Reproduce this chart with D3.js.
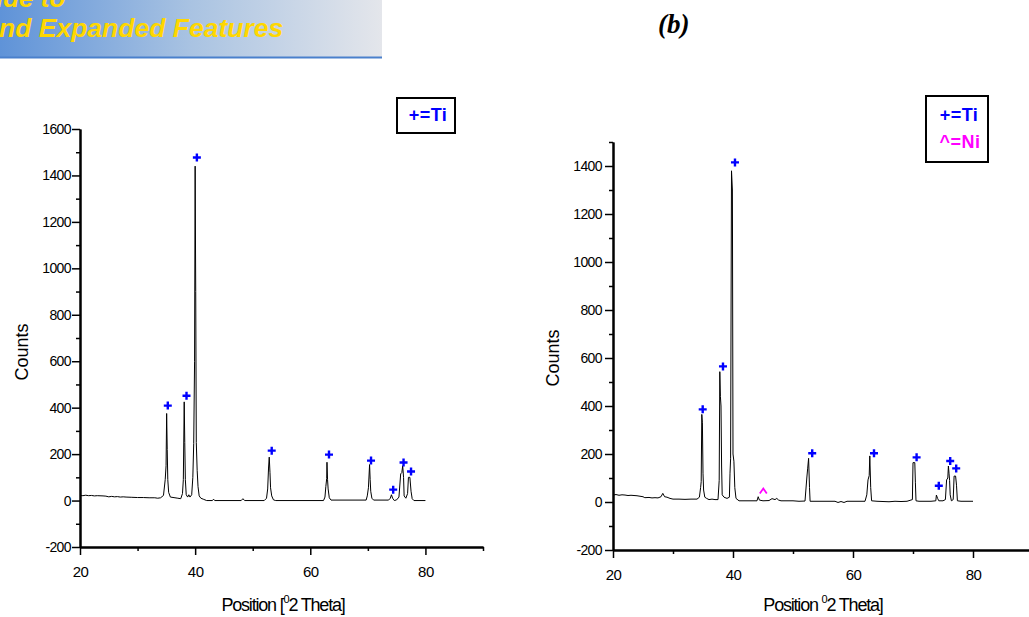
<!DOCTYPE html>
<html><head><meta charset="utf-8">
<script src="https://cdn.jsdelivr.net/npm/d3@7"></script>
<style>
html,body{margin:0;padding:0;background:#fff;}
svg{display:block;font-family:"Liberation Sans",Arial,sans-serif;}
</style></head>
<body>
<svg id="c" width="1029" height="617"></svg>
<script>
// ---------- DATA ----------
// Pattern (a): 2-theta positions and counts
const thetaA = [20,20.5,21,21.5,22,22.5,23,24,24.5,25,25.5,26,26.5,27,27.5,28,29,30,31,32,33,33.5,34,34.5,34.8,34.95,35.05,35.15,35.25,35.4,35.7,36.5,37,37.5,37.8,37.95,38.1,38.2,38.3,38.45,38.7,38.9,39.1,39.4,39.6,39.75,39.9,40.0,40.1,40.2,40.35,40.5,40.7,41,41.5,42,43,43.2,43.4,48,48.3,48.6,52,52.4,52.6,52.75,52.87,53.0,53.1,53.3,53.6,54,62.3,62.55,62.7,62.85,62.9,63.0,63.1,63.3,63.6,69.7,69.9,70.1,70.3,70.4,70.5,70.7,71,73.6,73.9,74.1,74.3,74.6,75,75.4,75.7,75.9,76.05,76.2,76.3,76.6,76.9,77.05,77.3,77.5,77.7,78,80];
const countsA = [22,21,23,21,22,20,21,20,19,16,18,16,17,15,16,15,14,13,13,12,12,10,12,22,90,150,375,220,90,35,15,12,10,8,30,90,425,250,90,25,15,25,15,25,100,245,600,1440,900,250,130,60,20,10,5,0,0,6,0,0,8,0,0,10,50,140,187,120,55,20,3,0,0,15,60,95,165,90,50,12,2,2,20,55,155,90,40,10,2,2,10,25,10,0,3,15,115,120,150,100,20,10,30,100,100,40,8,0,0];
// Pattern (b)
const thetaB = [20,20.5,21,21.5,22,22.5,23,24,25,25.3,26,26.5,27,27.5,28,28.3,28.6,29,29.5,30,31,32,33,34,34.4,34.6,34.7,34.8,34.9,35.0,35.1,35.3,35.6,36,36.5,37,37.5,37.7,37.8,37.9,38.0,38.1,38.2,38.5,39,39.4,39.5,39.6,39.75,39.9,40.0,40.15,40.3,40.5,41,42,43,44,44.2,44.4,45,46,46.5,47,47.3,47.6,48,50,51,52,52.3,52.45,52.6,52.75,52.85,53.5,55,57,57.5,58,58.5,59,62,62.3,62.5,62.7,62.8,62.95,63.1,64,66,67,68,69,69.9,70.0,70.3,70.4,70.5,71,73,73.8,73.9,74.1,74.3,75,75.4,75.6,75.8,75.9,76.0,76.1,76.2,76.4,76.7,76.85,77.1,77.25,77.4,78,79,80];
const countsB = [29,31,28,30,29,27,28,26,22,18,19,17,18,17,22,36,22,20,15,12,12,11,12,12,20,60,85,365,330,120,50,20,15,10,12,10,10,90,543,440,400,150,30,20,15,20,120,180,1380,1300,200,170,60,15,5,5,5,5,22,8,5,6,14,10,15,8,5,5,3,4,100,141,182,60,3,3,3,3,-2,2,-2,3,3,30,92,110,192,60,5,3,1,3,2,3,10,164,164,80,5,3,3,5,29,15,5,5,10,92,100,150,120,90,30,5,10,108,108,70,5,3,3,3];
// Phase markers
const tiMarkA_x = [35.25,38.5,40.3,53.3,63.25,70.55,74.4,76.2,77.5];
const tiMarkA_y = [409,451,1477,215,198,172,47,164,125];
const tiMarkB_x = [34.95,38.33,40.33,53.2,63.5,70.6,74.3,76.2,77.2];
const tiMarkB_y = [386,565,1415,203,203,186,68,171,140];
const niMarkB_x = [45.05];
const niMarkB_y = [46];
// Axis ticks
const xMajor = [20,40,60,80];
const xMinor = [30,50,70,90];
const yMajorA = [-200,0,200,400,600,800,1000,1200,1400,1600];
const yMinorA = [-100,100,300,500,700,900,1100,1300,1500];
const yMajorB = [-200,0,200,400,600,800,1000,1200,1400];
const yMinorB = [-100,100,300,500,700,900,1100,1300,1500];

// ---------- DRAW ----------
const svg = d3.select("#c");
const fmt = d => String(d);

// banner
const defs = svg.append("defs");
const gr = defs.append("linearGradient").attr("id","bn").attr("x1","0").attr("x2","1").attr("y1","0").attr("y2","0");
gr.append("stop").attr("offset","0").attr("stop-color","#5f93d8");
gr.append("stop").attr("offset","0.5").attr("stop-color","#a9c3e2");
gr.append("stop").attr("offset","1").attr("stop-color","#e4e6eb");
svg.append("rect").attr("x",0).attr("y",0).attr("width",382).attr("height",57).attr("fill","url(#bn)");
svg.append("rect").attr("x",0).attr("y",56.5).attr("width",382).attr("height",2).attr("fill","#4a80cc");
svg.append("text").attr("x",-4).attr("y",7).attr("fill","#ffd700").attr("font-weight","bold").attr("font-style","italic").attr("font-size",26).text("ide to");
svg.append("text").attr("x",-1).attr("y",37).attr("fill","#ffd700").attr("font-weight","bold").attr("font-style","italic").attr("font-size",26.5).text("nd Expanded Features");

svg.append("text").attr("x",658).attr("y",33).attr("font-family","'Liberation Serif','Times New Roman',serif")
  .attr("font-weight","bold").attr("font-style","italic").attr("font-size",27).text("(b)");

function panel(opt){
  const g = svg.append("g");
  const x = d3.scaleLinear().domain([20,90]).range(opt.xr);
  const y = d3.scaleLinear().domain(opt.yd).range(opt.yr);
  const y0 = opt.yr[0], x0 = opt.xr[0];
  // x axis
  g.append("g").attr("transform",`translate(0,${y0})`)
    .call(d3.axisBottom(x).tickValues(xMinor).tickSize(4).tickSizeOuter(0).tickFormat(""));
  g.append("g").attr("transform",`translate(0,${y0})`)
    .call(d3.axisBottom(x).tickValues(xMajor).tickSize(8).tickSizeOuter(0).tickPadding(11).tickFormat(fmt))
    .call(a=>a.selectAll("text").attr("font-size",15).attr("fill","#000").attr("letter-spacing","-0.5px"));
  // y axis
  g.append("g").attr("transform",`translate(${x0},0)`)
    .call(d3.axisLeft(y).tickValues(opt.yMinor).tickSize(4).tickSizeOuter(0).tickFormat(""));
  g.append("g").attr("transform",`translate(${x0},0)`)
    .call(d3.axisLeft(y).tickValues(opt.yMajor).tickSize(8).tickSizeOuter(0).tickPadding(opt.ypad).tickFormat(fmt))
    .call(a=>a.selectAll("text").attr("font-size",14).attr("fill","#000").attr("letter-spacing","-0.6px"));
  g.selectAll(".domain").attr("stroke","#000").attr("stroke-width",2);
  g.selectAll(".tick line").attr("stroke","#000").attr("stroke-width",1.5);
  // line
  const pts = opt.tx.map((t,i)=>[t,opt.cy[i]]);
  g.append("path").datum(pts).attr("fill","none").attr("stroke","#000").attr("stroke-width",1)
    .attr("d", d3.line().x(d=>x(d[0])).y(d=>y(d[1])));
  // Ti markers
  g.selectAll(".ti").data(opt.mx.map((t,i)=>[t,opt.my[i]])).join("path")
    .attr("transform",d=>`translate(${x(d[0])},${y(d[1])})`)
    .attr("d","M-4,0H4M0,-4V4").attr("stroke","#0000ff").attr("stroke-width",2.4).attr("fill","none");
  if(opt.nx){
    g.selectAll(".ni").data(opt.nx.map((t,i)=>[t,opt.ny[i]])).join("path")
      .attr("transform",d=>`translate(${x(d[0])},${y(d[1])})`)
      .attr("d","M-3.5,2.5L0,-2.5L3.5,2.5").attr("stroke","#ff00ff").attr("stroke-width",1.8).attr("fill","none");
  }
  // titles
  g.append("text").attr("transform",`translate(${opt.ylabX},${opt.ylabY}) rotate(-90)`)
    .attr("text-anchor","middle").attr("font-size",18).text("Counts");
  const xt = g.append("text").attr("x",opt.xlabX).attr("y",611).attr("text-anchor","middle")
    .attr("font-size",18).attr("letter-spacing","-1.2px");
  xt.append("tspan").text(opt.xpre);
  xt.append("tspan").attr("font-size",11).attr("dy",-8).text("0");
  xt.append("tspan").attr("dy",8).text("2 Theta]");
  // legend
  g.append("rect").attr("x",opt.lb[0]).attr("y",opt.lb[1]).attr("width",opt.lb[2]).attr("height",opt.lb[3])
    .attr("fill","#fff").attr("stroke","#000").attr("stroke-width",2);
  opt.leg.forEach(l=>{
    g.append("text").attr("x",l[0]).attr("y",l[1]).attr("fill",l[3]).attr("font-weight","bold")
      .attr("font-size",18).attr("text-anchor","middle").attr("letter-spacing","0.5px").text(l[2]);
  });
}

panel({xr:[80,483], yd:[-200,1600], yr:[547,129], yMajor:yMajorA, yMinor:yMinorA, ypad:1,
  tx:thetaA, cy:countsA, mx:tiMarkA_x, my:tiMarkA_y,
  ylabX:28, ylabY:352, xlabX:283, xpre:"Position [",
  lb:[397,98,58,35], leg:[[428,121,"+=Ti","#0000ff"]]});

panel({xr:[613,1033], yd:[-200,1500], yr:[550,142], yMajor:yMajorB, yMinor:yMinorB, ypad:3,
  tx:thetaB, cy:countsB, mx:tiMarkB_x, my:tiMarkB_y, nx:niMarkB_x, ny:niMarkB_y,
  ylabX:559, ylabY:358, xlabX:823, xpre:"Position ",
  lb:[926,96,62,66], leg:[[959,121,"+=Ti","#0000ff"],[960,148,"^=Ni","#ff00ff"]]});
</script>
</body></html>
